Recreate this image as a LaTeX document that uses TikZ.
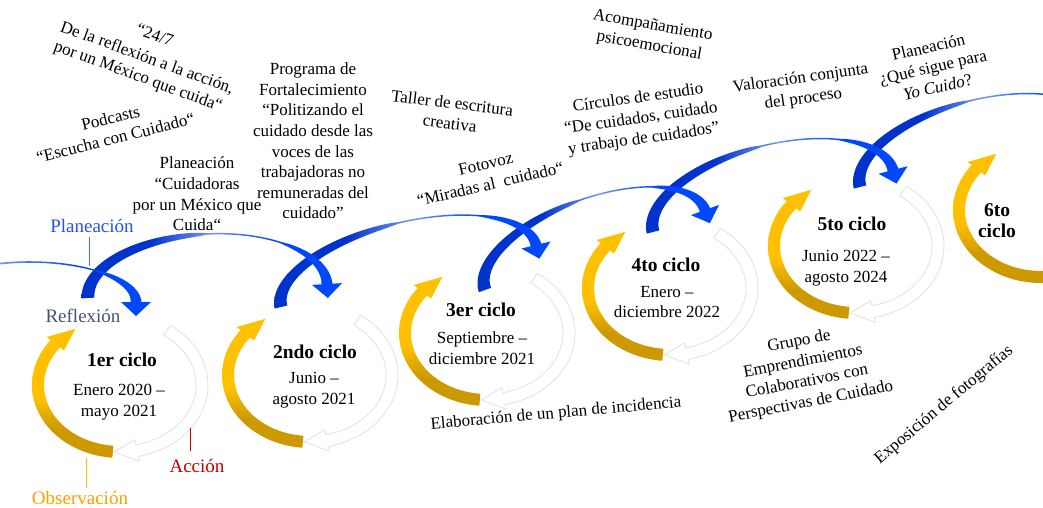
\documentclass[tikz,border=0pt]{standalone}
\usepackage{fontspec}
\setmainfont{Liberation Serif}
\definecolor{ylw}{RGB}{255,192,0}
\definecolor{gld}{RGB}{204,153,0}
\definecolor{bA}{RGB}{0,51,204}
\definecolor{bB}{RGB}{0,72,255}
\definecolor{bM}{RGB}{120,150,240}
\definecolor{lblue}{RGB}{35,85,235}
\definecolor{lslate}{RGB}{68,84,106}
\definecolor{lred}{RGB}{192,0,0}
\definecolor{lorange}{RGB}{250,160,0}
\definecolor{lineblue}{RGB}{68,114,196}
\definecolor{gry}{RGB}{225,225,225}
\pgfdeclareverticalshading{ygs}{100bp}{color(0bp)=(gld); color(36bp)=(gld); color(48bp)=(ylw); color(100bp)=(ylw)}
\pgfdeclarehorizontalshading{bsh}{100bp}{color(0bp)=(bA); color(38bp)=(bA); color(50bp)=(bM); color(62bp)=(bB); color(100bp)=(bB)}
\pgfdeclarehorizontalshading{bshz}{100bp}{color(0bp)=(bM); color(25bp)=(bM); color(50bp)=(bB); color(100bp)=(bB)}
\def\RXo{88}\def\RYo{73}\def\RXm{82}\def\RYm{67}\def\RXi{76}\def\RYi{61}
% circular (elliptical) block arrow of a cycle
\newcommand{\cycArrow}[6]{%
 \path[#6] plot[domain=#3:#4,samples=40,variable=\t] ({#1+\RXo*cos(\t)},{#2+\RYo*sin(\t)})
  -- ({#1+(\RXo+5)*cos(#4)},{#2+(\RYo+5)*sin(#4)})
  -- ({#1+\RXm*cos(#5)},{#2+\RYm*sin(#5)})
  -- ({#1+(\RXi-5)*cos(#4)},{#2+(\RYi-5)*sin(#4)})
  -- plot[domain=#4:#3,samples=40,variable=\t] ({#1+\RXi*cos(\t)},{#2+\RYi*sin(\t)}) -- cycle;}
% tapered blue arrow on a half ellipse from S to E
\newcommand{\bluearrow}[8]{%
 \pgfmathsetmacro\qcx{(#1+#3)/2}%
 \pgfmathsetmacro\qcy{(#2+#4)/2}%
 \pgfmathsetmacro\qa{veclen(#3-#1,#4-#2)/2}%
 \pgfmathsetmacro\qux{(#3-#1)/(2*\qa)}%
 \pgfmathsetmacro\quy{(#4-#2)/(2*\qa)}%
 \pgfmathsetmacro\qvx{\quy}%
 \pgfmathsetmacro\qvy{-\qux}%
 \shade[shading=#8] plot[domain=#6:0,samples=70,variable=\t]
   ({\qcx+(\qa+bw(\t,#7)/2)*cos(\t)*(\qux)+(#5+bw(\t,#7)/2)*sin(\t)*(\qvx)},{\qcy+(\qa+bw(\t,#7)/2)*cos(\t)*(\quy)+(#5+bw(\t,#7)/2)*sin(\t)*(\qvy)})
  -- ({\qcx+(\qa+15)*(\qux)},{\qcy+(\qa+15)*(\quy)})
  -- ({\qcx+\qa*(\qux)-14*(\qvx)},{\qcy+\qa*(\quy)-14*(\qvy)})
  -- ({\qcx+(\qa-15)*(\qux)},{\qcy+(\qa-15)*(\quy)})
  -- plot[domain=0:#6,samples=70,variable=\t]
   ({\qcx+(\qa-bw(\t,#7)/2)*cos(\t)*(\qux)+(#5-bw(\t,#7)/2)*sin(\t)*(\qvx)},{\qcy+(\qa-bw(\t,#7)/2)*cos(\t)*(\quy)+(#5-bw(\t,#7)/2)*sin(\t)*(\qvy)})
  -- cycle;}
\begin{document}
\begin{tikzpicture}[x=1pt,y=-1pt,
  declare function={bw(\p,\q)=(\p>90)?(1.5+(\q-1.5)*sqrt(abs(\p-90)/90)):(1.5+9.5*(max(0,(50-\p)/50)+0.0001)^0.7);},
  txt/.style={font=\fontsize{17}{20.6}\selectfont, align=center, inner sep=0pt},
  ttl/.style={font=\fontsize{19.5}{21}\selectfont\bfseries, align=center, inner sep=0pt},
  lbl/.style={font=\fontsize{19}{21}\selectfont, inner sep=0pt},
  yarc/.style={shade, shading=ygs},
  garc/.style={fill=white, draw=gry, line width=0.8pt},
  tick/.style={line width=0.8pt}]
\useasboundingbox (0,0) rectangle (1043,508);
\clip (0,0) rectangle (1043,508);

% cycles
\cycArrow{120}{385}{95}{218}{237}{yarc}
\cycArrow{120}{385}{-55}{78}{94}{garc}
\cycArrow{310}{375}{95}{218}{237}{yarc}
\cycArrow{310}{375}{-55}{78}{94}{garc}
\cycArrow{487}{333}{95}{218}{237}{yarc}
\cycArrow{487}{333}{-55}{78}{94}{garc}
\cycArrow{670}{288}{95}{218}{237}{yarc}
\cycArrow{670}{288}{-55}{78}{94}{garc}
\cycArrow{856}{246}{95}{218}{237}{yarc}
\cycArrow{856}{246}{-55}{78}{94}{garc}
\cycArrow{1041}{210}{80}{218}{237}{yarc}

% stage labels and their ticks
\node[lbl, text=lblue] (lp) at (92,226) {Planeación};
\node[lbl, text=lslate] (lr) at (83,316) {Reflexión};
\node[lbl, text=lred] (la) at (197,466) {Acción};
\node[lbl, text=lorange] (lo) at (80,498) {Observación};
\coordinate (lpa) at (89,237); \coordinate (lpb) at (89,266);
\draw[tick, lineblue] (lpa) -- (lpb);
\coordinate (laa) at (190,428); \coordinate (lab) at (190,451);
\draw[tick, lred] (laa) -- (lab);
\coordinate (loa) at (86,458); \coordinate (lob) at (86,488);
\draw[tick, ylw] (loa) -- (lob);

% blue planning arrows
\bluearrow{860}{187}{1100}{125}{56}{180}{13}{bsh}
\bluearrow{653}{232}{893}{170}{56}{180}{13}{bsh}
\bluearrow{485}{290}{705}{210}{52}{180}{13}{bsh}
\bluearrow{281}{307}{536}{245}{54}{180}{13}{bsh}
\bluearrow{88}{298}{327}{284}{57}{180}{13}{bsh}
\bluearrow{-76}{302}{136}{302}{40}{108}{2}{bshz}

% cycle texts
\node[ttl] (c1t) at (122,360) {1er ciclo};
\node[txt] (c1d) at (119,402) {Enero 2020 –\\mayo 2021};
\node[ttl] (c2t) at (315,352) {2ndo ciclo};
\node[txt] (c2d) at (314,390) {Junio –\\agosto 2021};
\node[ttl] (c3t) at (481,310) {3er ciclo};
\node[txt] (c3d) at (482,348) {Septiembre –\\diciembre 2021};
\node[ttl] (c4t) at (666,265) {4to ciclo};
\node[txt] (c4d) at (667,302) {Enero –\\diciembre 2022};
\node[ttl] (c5t) at (852,224) {5to ciclo};
\node[txt] (c5d) at (846,268) {Junio 2022 –\\agosto 2024};
\node[ttl] (c6t) at (997,221) {6to\\ciclo};

% activity texts
\node[txt, rotate=-20] (q1) at (155,35) {“24/7};
\node[txt, rotate=-20] (q2) at (147,58) {De la reflexión a la acción,};
\node[txt, rotate=-20] (q3) at (138,77) {por un México que cuida“};
\node[txt, rotate=14] (pod) at (113,128) {Podcasts\\“Escucha con Cuidado“};
\node[txt] (plc) at (197,194) {Planeación\\“Cuidadoras\\por un México que\\Cuida“};
\node[txt] (prog) at (313,141) {Programa de\\Fortalecimiento\\“Politizando el\\cuidado desde las\\voces de las\\trabajadoras no\\remuneradas del\\cuidado”};
\node[txt, rotate=-7] (tal) at (451,113) {Taller de escritura\\creativa};
\node[txt, rotate=13] (foto) at (488,174) {Fotovoz\\“Miradas al\ \ cuidado“};
\node[txt, rotate=-10] (aco) at (651,36) {Acompañamiento\\psicoemocional};
\node[txt, rotate=8] (cir) at (641,119) {Círculos de estudio\\“De cuidados, cuidado\\y trabajo de cuidados”};
\node[txt, rotate=8] (val) at (802,89) {Valoración conjunta\\del proceso};
\node[txt, rotate=13] (qsp) at (933,67) {Planeación\\¿Qué sigue para\\\textit{Yo Cuido}?};
\node[txt, rotate=5] (ela) at (556,414) {Elaboración de un plan de incidencia};
\node[txt, rotate=11] (gru) at (805,372) {Grupo de\\Emprendimientos\\Colaborativos con\\Perspectivas de Cuidado};
\node[txt, rotate=40] (expo) at (944,405) {Exposición de fotografías};
\end{tikzpicture}
\end{document}
